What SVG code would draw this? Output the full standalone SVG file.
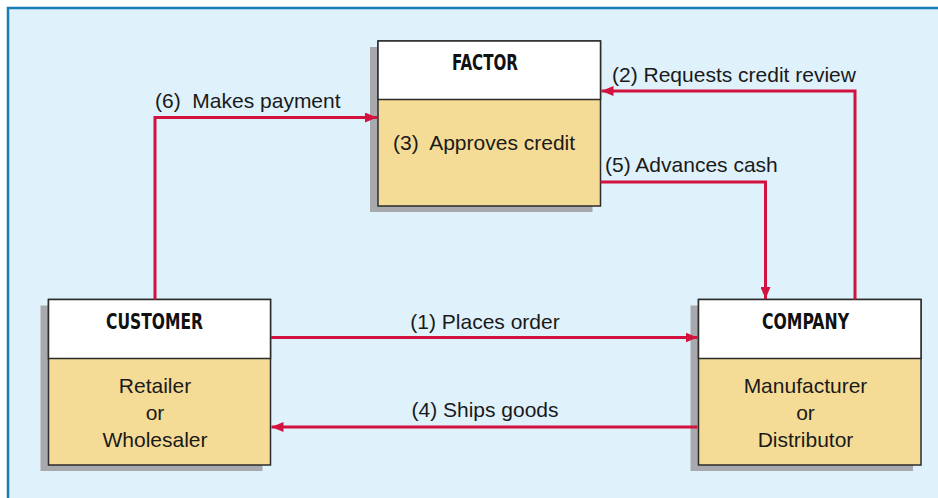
<svg xmlns="http://www.w3.org/2000/svg" width="938" height="498" viewBox="0 0 938 498">
<defs>
<marker id="ah" viewBox="0 0 12 10" refX="12" refY="5" markerWidth="12" markerHeight="10" markerUnits="userSpaceOnUse" orient="auto">
<path d="M0,0 L12,5 L0,10 Z" fill="#d3133f"/>
</marker>
<style>
.shadow{fill:#a7a9ac}
.head{fill:#ffffff;stroke:#2b2b2b;stroke-width:1.5}
.body{fill:#f5dc96;stroke:#2b2b2b;stroke-width:1.5}
.title{font-family:"Liberation Sans Narrow","DejaVu Sans Condensed","Liberation Sans",sans-serif;font-weight:bold;font-size:21.5px;fill:#111}
.txt{font-family:"Liberation Sans",Arial,sans-serif;font-size:21px;fill:#1a1a1a}
.mid{text-anchor:middle}
.conn{fill:none;stroke:#d3133f;stroke-width:3;marker-end:url(#ah)}
</style>
</defs>
<rect x="8" y="8" width="940" height="500" fill="#dff1fb" stroke="#1b7db5" stroke-width="2.5"/>

<g id="factor">
<rect class="shadow" x="370" y="47" width="222.5" height="165"/>
<rect class="body" x="378" y="41" width="222.5" height="165"/>
<rect class="head" x="378" y="41" width="222.5" height="58.5"/>
<text class="title" x="452" y="70" textLength="66" lengthAdjust="spacingAndGlyphs">FACTOR</text>
<text class="txt" x="393" y="149.5" xml:space="preserve">(3)  Approves credit</text>
</g>

<g id="customer">
<rect class="shadow" x="40.5" y="305.5" width="222" height="165.5"/>
<rect class="body" x="48.5" y="299.5" width="222" height="165.5"/>
<rect class="head" x="48.5" y="299.5" width="222" height="59"/>
<text class="title" x="106" y="329" textLength="97" lengthAdjust="spacingAndGlyphs">CUSTOMER</text>
<text class="txt mid" x="155" y="392.5">Retailer</text>
<text class="txt mid" x="155" y="419.5">or</text>
<text class="txt mid" x="155" y="446.5">Wholesaler</text>
</g>

<g id="company">
<rect class="shadow" x="690.5" y="305.5" width="222.5" height="165.5"/>
<rect class="body" x="698.5" y="299.5" width="222.5" height="165.5"/>
<rect class="head" x="698.5" y="299.5" width="222.5" height="59"/>
<text class="title" x="762" y="329" textLength="87" lengthAdjust="spacingAndGlyphs">COMPANY</text>
<text class="txt mid" x="805.5" y="392.5">Manufacturer</text>
<text class="txt mid" x="805.5" y="419.5">or</text>
<text class="txt mid" x="805.5" y="446.5">Distributor</text>
</g>

<g id="connectors">
<path class="conn" d="M155,299.5 V117.5 H377"/>
<path class="conn" d="M855,299.5 V91 H601.5"/>
<path class="conn" d="M600.5,182 H765.5 V299"/>
<path class="conn" d="M271,337.5 H697.5"/>
<path class="conn" d="M697.5,427 H271.5"/>
<text class="txt" x="155" y="107.5" xml:space="preserve">(6)  Makes payment</text>
<text class="txt" x="612" y="81.5">(2) Requests credit review</text>
<text class="txt" x="605" y="171.5">(5) Advances cash</text>
<text class="txt mid" x="485" y="329">(1) Places order</text>
<text class="txt mid" x="485" y="417">(4) Ships goods</text>
</g>
</svg>
